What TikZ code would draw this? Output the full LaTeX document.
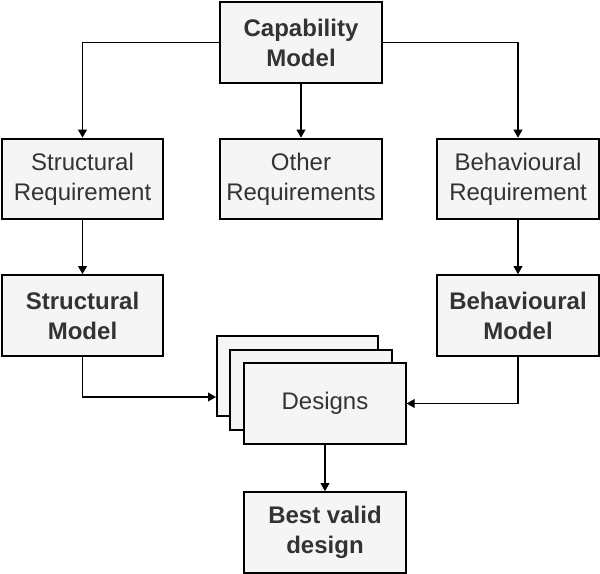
\documentclass[tikz,border=0pt]{standalone}
\usepackage{fontspec}
\setmainfont{Liberation Sans}
\usetikzlibrary{arrows.meta}
\definecolor{boxgray}{HTML}{F5F5F5}
\definecolor{textgray}{HTML}{333333}
\tikzset{
  box/.style={draw=black, line width=1.4pt, fill=boxgray, text=textgray,
    minimum width=121pt, minimum height=60.5pt, inner sep=0pt, align=center,
    font=\fontsize{18}{22.5}\selectfont},
  boldbox/.style={box, font=\fontsize{18}{22.5}\selectfont\bfseries},
  arr/.style={draw=black, line width=1.1pt, -{Triangle[length=6pt,width=6.5pt]}}
}
\begin{document}
\begin{tikzpicture}[x=0.75pt,y=-0.75pt]
\useasboundingbox (0,0) rectangle (600,574);
\node[boldbox] (cap) at (301,42.5) {Capability\\Model};
\node[box] (sreq) at (82.5,179) {Structural\\Requirement};
\node[box] (oreq) at (301,179) {Other\\Requirements};
\node[box] (breq) at (518,179) {Behavioural\\Requirement};
\node[boldbox] (smod) at (82.5,315.5) {Structural\\Model};
\node[boldbox] (bmod) at (518,315.5) {Behavioural\\Model};
\node[box] (d1) at (297.5,376) {};
\node[box] (d2) at (311,390) {};
\node[box] (d3) at (325,403.5) {Designs};
\node[boldbox] (best) at (325,532.5) {Best valid\\design};
\coordinate (din) at (216,397);
\draw[arr] (cap.west) -| (sreq.north);
\draw[arr] (cap.east) -| (breq.north);
\draw[arr] (cap.south) -- (oreq.north);
\draw[arr] (sreq.south) -- (smod.north);
\draw[arr] (breq.south) -- (bmod.north);
\draw[arr] (smod.south) |- (din);
\draw[arr] (bmod.south) |- (d3.east);
\draw[arr] (d3.south) -- (best.north);
\end{tikzpicture}
\end{document}
